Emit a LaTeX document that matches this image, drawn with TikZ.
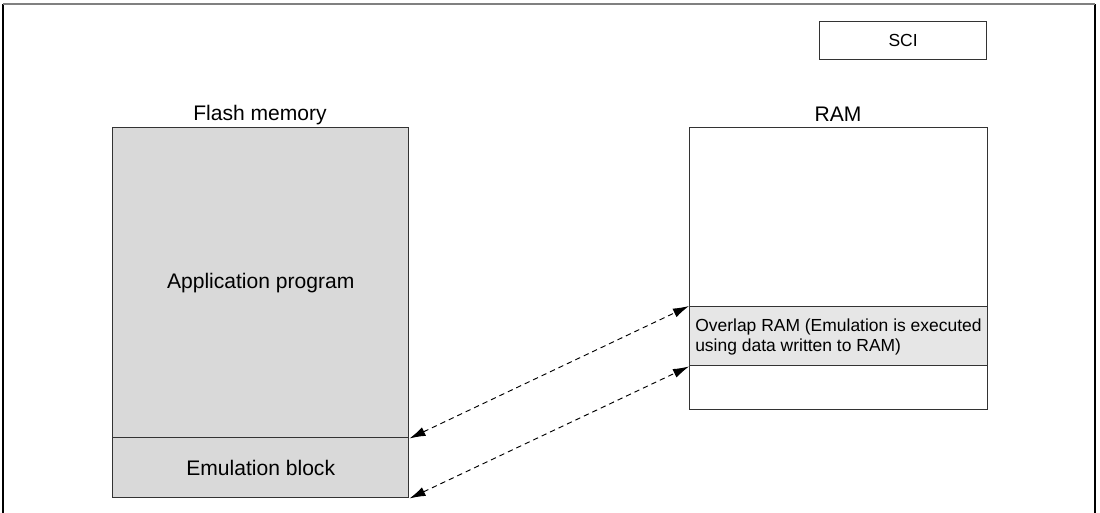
\documentclass[tikz,border=0pt]{standalone}
\usepackage{fontspec}
\setmainfont{Liberation Sans}
\usetikzlibrary{arrows.meta}
\definecolor{flashgray}{HTML}{D9D9D9}
\definecolor{ovgray}{HTML}{E6E6E6}
\definecolor{edge}{HTML}{333333}
\tikzset{
  membox/.style={draw=edge, line width=1.1pt, rectangle, inner sep=0pt, anchor=north west},
  biglabel/.style={font=\fontsize{15.8pt}{19pt}\selectfont},
  smalllabel/.style={font=\fontsize{13.1pt}{15pt}\selectfont},
  link/.style={dashed, dash pattern=on 4pt off 3pt, line width=0.7pt, {Latex[length=12pt,width=7pt]}-{Latex[length=12pt,width=7pt]}}
}
\begin{document}
\begin{tikzpicture}[x=0.75pt, y=-0.75pt]
\useasboundingbox (0,0) rectangle (1100,512);
% outer frame
\draw[black, line width=0.9pt] (3,516) -- (3,4);
\draw[black, line width=0.9pt] (1095,516) -- (1095,4);
\draw[gray, line width=1.4pt] (3,4) -- (1095,4);
% SCI
\node[membox, minimum width=125.25pt, minimum height=28.5pt, smalllabel, line width=0.9pt] (sci) at (819,21) {SCI};
% Flash memory
\node[biglabel, anchor=base] (flashlbl) at (260,120) {Flash memory};
\node[membox, fill=flashgray, minimum width=222pt, minimum height=232.5pt, biglabel] (app) at (112,127) {Application program};
\node[membox, fill=flashgray, minimum width=222pt, minimum height=45pt, biglabel] (emu) at (112,437) {Emulation block};
% RAM
\node[biglabel, anchor=base] (ramlbl) at (838,121) {RAM};
\node[membox, fill=white, minimum width=223.5pt, minimum height=134.25pt] (ramtop) at (689,127) {};
\node[membox, fill=ovgray, minimum width=223.5pt, minimum height=44.25pt] (overlap) at (689,306) {};
\node[smalllabel, align=left, anchor=west, inner sep=0pt] (ovtext) at (695,337) {Overlap RAM (Emulation is executed\\using data written to RAM)};
\node[membox, fill=white, minimum width=223.5pt, minimum height=33pt] (rambot) at (689,365) {};
% connectors
\draw[link] (app.south east) -- (overlap.north west);
\draw[link] (emu.south east) -- (overlap.south west);
\end{tikzpicture}
\end{document}
